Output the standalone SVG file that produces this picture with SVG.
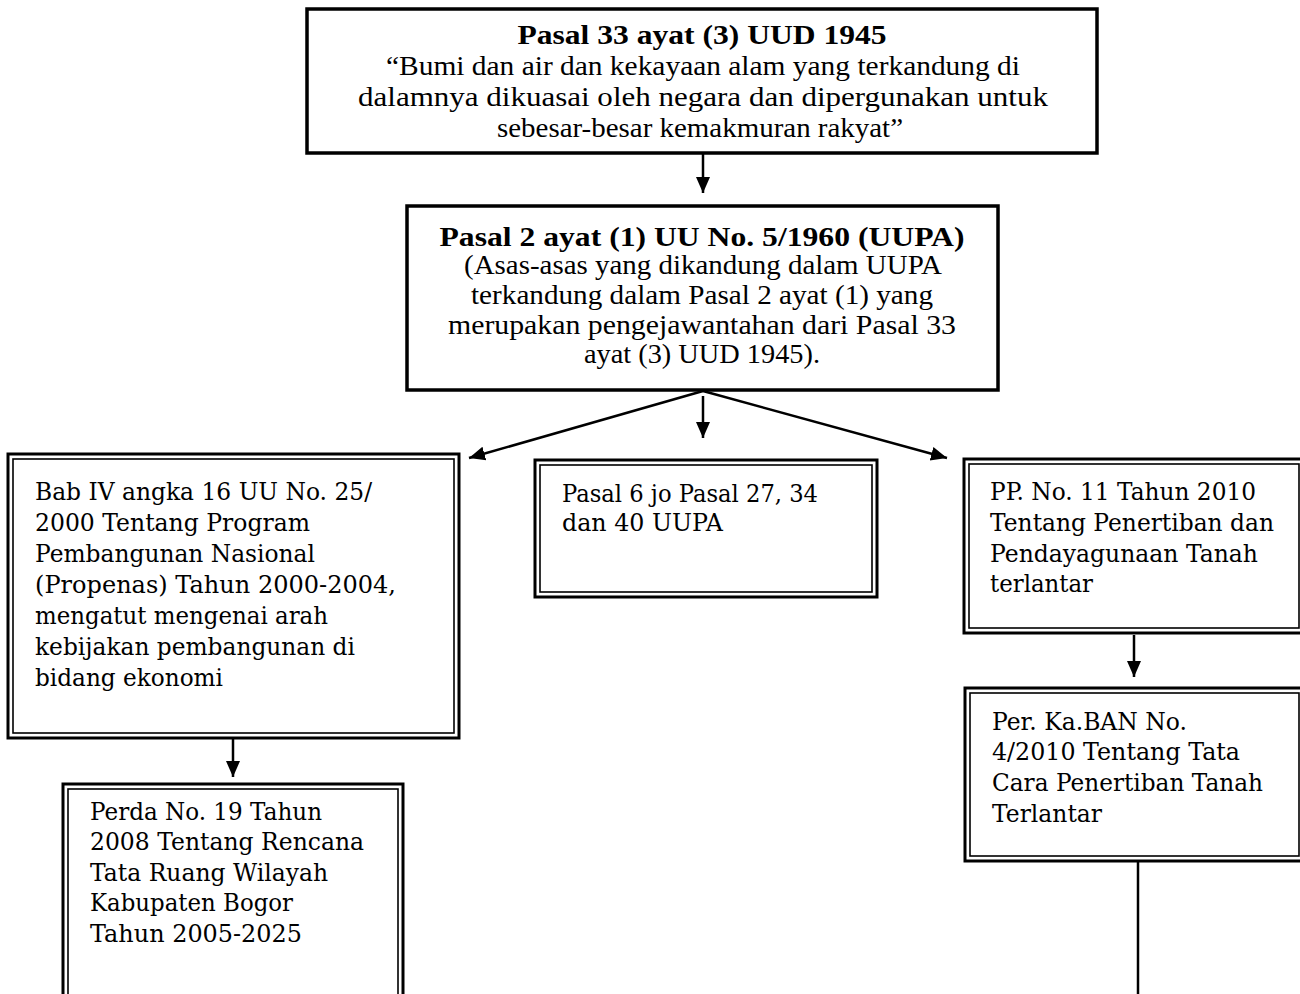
<svg xmlns="http://www.w3.org/2000/svg" width="1300" height="994" viewBox="0 0 1300 994">
<style>
.bg{fill:#fff}
.single{fill:#fff;stroke:#000;stroke-width:3.5}
.outer{fill:#fff;stroke:#000;stroke-width:3}
.inner{fill:none;stroke:#000;stroke-width:1.6}
.ct{font-family:"Liberation Serif","Times New Roman",serif;font-size:28px;fill:#000;text-anchor:middle}
.cb{font-weight:bold}
.lt{font-family:"DejaVu Serif","Liberation Serif",serif;font-size:23.5px;fill:#000}
.conn{stroke:#000;stroke-width:2.5;fill:none}
</style>
<defs>
<marker id="arr" markerUnits="userSpaceOnUse" markerWidth="18" markerHeight="18" viewBox="0 0 18 18" refX="16" refY="9" orient="auto">
<path d="M0,2 L16,9 L0,16 Z" fill="#000"/>
</marker>
</defs>
<rect class="bg" x="0" y="0" width="1300" height="994"/>

<g id="connectors">
<line class="conn" x1="703" y1="154" x2="703" y2="193" marker-end="url(#arr)"/>
<line class="conn" x1="703" y1="391" x2="469" y2="458" marker-end="url(#arr)"/>
<line class="conn" x1="703" y1="396" x2="703" y2="438" marker-end="url(#arr)"/>
<line class="conn" x1="703" y1="391" x2="947" y2="458" marker-end="url(#arr)"/>
<line class="conn" x1="233" y1="739" x2="233" y2="777" marker-end="url(#arr)"/>
<line class="conn" x1="1134" y1="635" x2="1134" y2="677" marker-end="url(#arr)"/>
<line class="conn" x1="1138" y1="862" x2="1138" y2="994"/>
</g>

<g id="node-uud">
<rect class="single" x="307" y="9" width="790" height="144"/>
<text class="ct cb" x="702" y="44" textLength="369" lengthAdjust="spacingAndGlyphs">Pasal 33 ayat (3) UUD 1945</text>
<text class="ct" x="703" y="75" textLength="634" lengthAdjust="spacingAndGlyphs">“Bumi dan air dan kekayaan alam yang terkandung di</text>
<text class="ct" x="703" y="106" textLength="690" lengthAdjust="spacingAndGlyphs">dalamnya dikuasai oleh negara dan dipergunakan untuk</text>
<text class="ct" x="700" y="137" textLength="406" lengthAdjust="spacingAndGlyphs">sebesar-besar kemakmuran rakyat”</text>
</g>

<g id="node-uupa">
<rect class="single" x="407" y="206" width="591" height="184"/>
<text class="ct cb" x="702" y="246" textLength="525" lengthAdjust="spacingAndGlyphs">Pasal 2 ayat (1) UU No. 5/1960 (UUPA)</text>
<text class="ct" x="703" y="274" textLength="478" lengthAdjust="spacingAndGlyphs">(Asas-asas yang dikandung dalam UUPA</text>
<text class="ct" x="702" y="304" textLength="462" lengthAdjust="spacingAndGlyphs">terkandung dalam Pasal 2 ayat (1) yang</text>
<text class="ct" x="702" y="334" textLength="508" lengthAdjust="spacingAndGlyphs">merupakan pengejawantahan dari Pasal 33</text>
<text class="ct" x="702" y="363" textLength="236" lengthAdjust="spacingAndGlyphs">ayat (3) UUD 1945).</text>
</g>

<g id="node-propenas">
<rect class="outer" x="8" y="454" width="451" height="284"/>
<rect class="inner" x="13" y="459" width="441" height="274"/>
<text class="lt" x="35" y="500" textLength="337" lengthAdjust="spacingAndGlyphs">Bab IV angka 16  UU No. 25/</text>
<text class="lt" x="35" y="531" textLength="275" lengthAdjust="spacingAndGlyphs">2000 Tentang Program</text>
<text class="lt" x="35" y="562" textLength="280" lengthAdjust="spacingAndGlyphs">Pembangunan Nasional</text>
<text class="lt" x="35" y="593" textLength="361" lengthAdjust="spacingAndGlyphs">(Propenas) Tahun 2000-2004,</text>
<text class="lt" x="35" y="624" textLength="293" lengthAdjust="spacingAndGlyphs">mengatut mengenai arah</text>
<text class="lt" x="35" y="655" textLength="320" lengthAdjust="spacingAndGlyphs">kebijakan pembangunan di</text>
<text class="lt" x="35" y="686" textLength="188" lengthAdjust="spacingAndGlyphs">bidang ekonomi</text>
</g>

<g id="node-pasal6">
<rect class="outer" x="535" y="460" width="342" height="137"/>
<rect class="inner" x="540" y="465" width="332" height="127"/>
<text class="lt" x="562" y="502" textLength="256" lengthAdjust="spacingAndGlyphs">Pasal 6 jo Pasal 27, 34</text>
<text class="lt" x="562" y="531" textLength="161" lengthAdjust="spacingAndGlyphs">dan 40 UUPA</text>
</g>

<g id="node-pp11">
<rect class="outer" x="964" y="459" width="342" height="174"/>
<rect class="inner" x="969" y="464" width="330" height="164"/>
<text class="lt" x="990" y="500" textLength="266" lengthAdjust="spacingAndGlyphs">PP. No. 11 Tahun 2010</text>
<text class="lt" x="990" y="531" textLength="284" lengthAdjust="spacingAndGlyphs">Tentang Penertiban dan</text>
<text class="lt" x="990" y="562" textLength="268" lengthAdjust="spacingAndGlyphs">Pendayagunaan Tanah</text>
<text class="lt" x="990" y="592" textLength="103" lengthAdjust="spacingAndGlyphs">terlantar</text>
</g>

<g id="node-perkaban">
<rect class="outer" x="965" y="688" width="341" height="173"/>
<rect class="inner" x="970" y="693" width="329" height="163"/>
<text class="lt" x="992" y="730" textLength="195" lengthAdjust="spacingAndGlyphs">Per. Ka.BAN No.</text>
<text class="lt" x="992" y="760" textLength="248" lengthAdjust="spacingAndGlyphs">4/2010 Tentang Tata</text>
<text class="lt" x="992" y="791" textLength="271" lengthAdjust="spacingAndGlyphs">Cara Penertiban Tanah</text>
<text class="lt" x="992" y="822" textLength="110" lengthAdjust="spacingAndGlyphs">Terlantar</text>
</g>

<g id="node-perda">
<rect class="outer" x="63" y="784" width="340" height="230"/>
<rect class="inner" x="68" y="789" width="330" height="220"/>
<text class="lt" x="90" y="820" textLength="232" lengthAdjust="spacingAndGlyphs">Perda No. 19 Tahun</text>
<text class="lt" x="90" y="850" textLength="274" lengthAdjust="spacingAndGlyphs">2008 Tentang Rencana</text>
<text class="lt" x="90" y="881" textLength="238" lengthAdjust="spacingAndGlyphs">Tata Ruang Wilayah</text>
<text class="lt" x="90" y="911" textLength="203" lengthAdjust="spacingAndGlyphs">Kabupaten Bogor</text>
<text class="lt" x="90" y="942" textLength="212" lengthAdjust="spacingAndGlyphs">Tahun 2005-2025</text>
</g>
</svg>
